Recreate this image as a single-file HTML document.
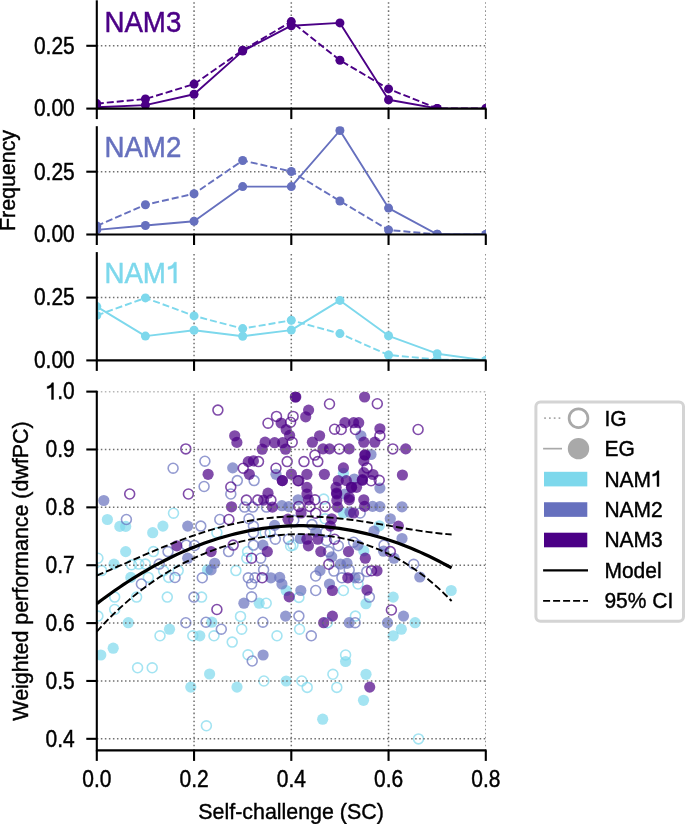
<!DOCTYPE html>
<html><head><meta charset="utf-8"><style>
html,body{margin:0;padding:0;background:#fff;}
svg{display:block;will-change:transform;}
text{font-family:"Liberation Sans", sans-serif;}
.t{font-size:21px;fill:#000;stroke:#000;stroke-width:0.4px;}
.lab{font-size:21.4px;fill:#000;stroke:#000;stroke-width:0.4px;}
.ttl{font-size:27.7px;stroke-width:0.45px;}
</style></head><body>
<svg width="685" height="824" viewBox="0 0 685 824">
<rect width="685" height="824" fill="#fff"/>
<clipPath id="cp0"><rect x="96.8" y="0.30" width="389.00" height="108.30"/></clipPath>
<g stroke="#707070" stroke-width="1.52" stroke-dasharray="1.52 2.51" fill="none" clip-path="url(#cp0)">
<line x1="96.8" y1="45.80" x2="485.8" y2="45.80"/>
<line x1="194.05" y1="108.60" x2="194.05" y2="0.30"/>
<line x1="291.30" y1="108.60" x2="291.30" y2="0.30"/>
<line x1="388.55" y1="108.60" x2="388.55" y2="0.30"/>
<line x1="485.80" y1="108.60" x2="485.80" y2="0.30"/>
</g>
<g clip-path="url(#cp0)">
<polyline points="96.80,103.60 145.43,99.00 194.05,84.10 242.68,50.30 291.30,21.60 339.93,60.30 388.55,88.90 437.18,108.40 485.80,108.60" fill="none" stroke="#4b0086" stroke-width="1.9" stroke-dasharray="7.0 3.0" stroke-linejoin="round"/>
<circle cx="96.80" cy="103.60" r="4.5" fill="#4b0086"/>
<circle cx="145.43" cy="99.00" r="4.5" fill="#4b0086"/>
<circle cx="194.05" cy="84.10" r="4.5" fill="#4b0086"/>
<circle cx="242.68" cy="50.30" r="4.5" fill="#4b0086"/>
<circle cx="291.30" cy="21.60" r="4.5" fill="#4b0086"/>
<circle cx="339.93" cy="60.30" r="4.5" fill="#4b0086"/>
<circle cx="388.55" cy="88.90" r="4.5" fill="#4b0086"/>
<circle cx="437.18" cy="108.40" r="4.5" fill="#4b0086"/>
<circle cx="485.80" cy="108.60" r="4.5" fill="#4b0086"/>
<polyline points="96.80,107.20 145.43,105.10 194.05,94.20 242.68,51.10 291.30,25.70 339.93,22.90 388.55,99.80 437.18,108.40 485.80,108.60" fill="none" stroke="#4b0086" stroke-width="1.9" stroke-linejoin="round"/>
<circle cx="96.80" cy="107.20" r="4.5" fill="#4b0086"/>
<circle cx="145.43" cy="105.10" r="4.5" fill="#4b0086"/>
<circle cx="194.05" cy="94.20" r="4.5" fill="#4b0086"/>
<circle cx="242.68" cy="51.10" r="4.5" fill="#4b0086"/>
<circle cx="291.30" cy="25.70" r="4.5" fill="#4b0086"/>
<circle cx="339.93" cy="22.90" r="4.5" fill="#4b0086"/>
<circle cx="388.55" cy="99.80" r="4.5" fill="#4b0086"/>
<circle cx="437.18" cy="108.40" r="4.5" fill="#4b0086"/>
<circle cx="485.80" cy="108.60" r="4.5" fill="#4b0086"/>
</g>
<line x1="96.8" y1="0.30" x2="96.8" y2="109.35" stroke="#000" stroke-width="2.1"/>
<line x1="96.05" y1="108.60" x2="486.55" y2="108.60" stroke="#000" stroke-width="2.1"/>
<line x1="86.3" y1="108.60" x2="96.8" y2="108.60" stroke="#000" stroke-width="2.1"/>
<line x1="86.3" y1="45.80" x2="96.8" y2="45.80" stroke="#000" stroke-width="2.1"/>
<line x1="96.80" y1="108.60" x2="96.80" y2="119.10" stroke="#000" stroke-width="2.1"/>
<line x1="194.05" y1="108.60" x2="194.05" y2="119.10" stroke="#000" stroke-width="2.1"/>
<line x1="291.30" y1="108.60" x2="291.30" y2="119.10" stroke="#000" stroke-width="2.1"/>
<line x1="388.55" y1="108.60" x2="388.55" y2="119.10" stroke="#000" stroke-width="2.1"/>
<line x1="485.80" y1="108.60" x2="485.80" y2="119.10" stroke="#000" stroke-width="2.1"/>
<text transform="translate(74.80,116.40) scale(1,1.12)" text-anchor="end" class="t">0.00</text>
<text transform="translate(74.80,53.60) scale(1,1.12)" text-anchor="end" class="t">0.25</text>
<text transform="translate(104.40,32.10) scale(1,1.06)" class="ttl" fill="#4b0086" stroke="#4b0086">NAM3</text>
<clipPath id="cp1"><rect x="96.8" y="126.20" width="389.00" height="108.30"/></clipPath>
<g stroke="#707070" stroke-width="1.52" stroke-dasharray="1.52 2.51" fill="none" clip-path="url(#cp1)">
<line x1="96.8" y1="171.70" x2="485.8" y2="171.70"/>
<line x1="194.05" y1="234.50" x2="194.05" y2="126.20"/>
<line x1="291.30" y1="234.50" x2="291.30" y2="126.20"/>
<line x1="388.55" y1="234.50" x2="388.55" y2="126.20"/>
<line x1="485.80" y1="234.50" x2="485.80" y2="126.20"/>
</g>
<g clip-path="url(#cp1)">
<polyline points="96.80,225.90 145.43,204.80 194.05,193.70 242.68,160.50 291.30,171.50 339.93,201.00 388.55,230.00 437.18,234.30 485.80,234.50" fill="none" stroke="#6670be" stroke-width="1.9" stroke-dasharray="7.0 3.0" stroke-linejoin="round"/>
<circle cx="96.80" cy="225.90" r="4.5" fill="#6670be"/>
<circle cx="145.43" cy="204.80" r="4.5" fill="#6670be"/>
<circle cx="194.05" cy="193.70" r="4.5" fill="#6670be"/>
<circle cx="242.68" cy="160.50" r="4.5" fill="#6670be"/>
<circle cx="291.30" cy="171.50" r="4.5" fill="#6670be"/>
<circle cx="339.93" cy="201.00" r="4.5" fill="#6670be"/>
<circle cx="388.55" cy="230.00" r="4.5" fill="#6670be"/>
<circle cx="437.18" cy="234.30" r="4.5" fill="#6670be"/>
<circle cx="485.80" cy="234.50" r="4.5" fill="#6670be"/>
<polyline points="96.80,229.90 145.43,225.50 194.05,221.30 242.68,186.60 291.30,186.60 339.93,130.50 388.55,208.10 437.18,234.30 485.80,234.50" fill="none" stroke="#6670be" stroke-width="1.9" stroke-linejoin="round"/>
<circle cx="96.80" cy="229.90" r="4.5" fill="#6670be"/>
<circle cx="145.43" cy="225.50" r="4.5" fill="#6670be"/>
<circle cx="194.05" cy="221.30" r="4.5" fill="#6670be"/>
<circle cx="242.68" cy="186.60" r="4.5" fill="#6670be"/>
<circle cx="291.30" cy="186.60" r="4.5" fill="#6670be"/>
<circle cx="339.93" cy="130.50" r="4.5" fill="#6670be"/>
<circle cx="388.55" cy="208.10" r="4.5" fill="#6670be"/>
<circle cx="437.18" cy="234.30" r="4.5" fill="#6670be"/>
<circle cx="485.80" cy="234.50" r="4.5" fill="#6670be"/>
</g>
<line x1="96.8" y1="126.20" x2="96.8" y2="235.25" stroke="#000" stroke-width="2.1"/>
<line x1="96.05" y1="234.50" x2="486.55" y2="234.50" stroke="#000" stroke-width="2.1"/>
<line x1="86.3" y1="234.50" x2="96.8" y2="234.50" stroke="#000" stroke-width="2.1"/>
<line x1="86.3" y1="171.70" x2="96.8" y2="171.70" stroke="#000" stroke-width="2.1"/>
<line x1="96.80" y1="234.50" x2="96.80" y2="245.00" stroke="#000" stroke-width="2.1"/>
<line x1="194.05" y1="234.50" x2="194.05" y2="245.00" stroke="#000" stroke-width="2.1"/>
<line x1="291.30" y1="234.50" x2="291.30" y2="245.00" stroke="#000" stroke-width="2.1"/>
<line x1="388.55" y1="234.50" x2="388.55" y2="245.00" stroke="#000" stroke-width="2.1"/>
<line x1="485.80" y1="234.50" x2="485.80" y2="245.00" stroke="#000" stroke-width="2.1"/>
<text transform="translate(74.80,242.30) scale(1,1.12)" text-anchor="end" class="t">0.00</text>
<text transform="translate(74.80,179.50) scale(1,1.12)" text-anchor="end" class="t">0.25</text>
<text transform="translate(104.40,157.10) scale(1,1.06)" class="ttl" fill="#6670be" stroke="#6670be">NAM2</text>
<clipPath id="cp2"><rect x="96.8" y="252.10" width="389.00" height="108.30"/></clipPath>
<g stroke="#707070" stroke-width="1.52" stroke-dasharray="1.52 2.51" fill="none" clip-path="url(#cp2)">
<line x1="96.8" y1="297.60" x2="485.8" y2="297.60"/>
<line x1="194.05" y1="360.40" x2="194.05" y2="252.10"/>
<line x1="291.30" y1="360.40" x2="291.30" y2="252.10"/>
<line x1="388.55" y1="360.40" x2="388.55" y2="252.10"/>
<line x1="485.80" y1="360.40" x2="485.80" y2="252.10"/>
</g>
<g clip-path="url(#cp2)">
<polyline points="96.80,315.40 145.43,297.90 194.05,315.90 242.68,328.60 291.30,320.30 339.93,333.60 388.55,355.00 437.18,359.50 485.80,360.40" fill="none" stroke="#7dd8ec" stroke-width="1.9" stroke-dasharray="7.0 3.0" stroke-linejoin="round"/>
<circle cx="96.80" cy="315.40" r="4.5" fill="#7dd8ec"/>
<circle cx="145.43" cy="297.90" r="4.5" fill="#7dd8ec"/>
<circle cx="194.05" cy="315.90" r="4.5" fill="#7dd8ec"/>
<circle cx="242.68" cy="328.60" r="4.5" fill="#7dd8ec"/>
<circle cx="291.30" cy="320.30" r="4.5" fill="#7dd8ec"/>
<circle cx="339.93" cy="333.60" r="4.5" fill="#7dd8ec"/>
<circle cx="388.55" cy="355.00" r="4.5" fill="#7dd8ec"/>
<circle cx="437.18" cy="359.50" r="4.5" fill="#7dd8ec"/>
<circle cx="485.80" cy="360.40" r="4.5" fill="#7dd8ec"/>
<polyline points="96.80,306.60 145.43,336.10 194.05,330.30 242.68,336.20 291.30,330.10 339.93,300.40 388.55,335.80 437.18,353.70 485.80,360.40" fill="none" stroke="#7dd8ec" stroke-width="1.9" stroke-linejoin="round"/>
<circle cx="96.80" cy="306.60" r="4.5" fill="#7dd8ec"/>
<circle cx="145.43" cy="336.10" r="4.5" fill="#7dd8ec"/>
<circle cx="194.05" cy="330.30" r="4.5" fill="#7dd8ec"/>
<circle cx="242.68" cy="336.20" r="4.5" fill="#7dd8ec"/>
<circle cx="291.30" cy="330.10" r="4.5" fill="#7dd8ec"/>
<circle cx="339.93" cy="300.40" r="4.5" fill="#7dd8ec"/>
<circle cx="388.55" cy="335.80" r="4.5" fill="#7dd8ec"/>
<circle cx="437.18" cy="353.70" r="4.5" fill="#7dd8ec"/>
<circle cx="485.80" cy="360.40" r="4.5" fill="#7dd8ec"/>
</g>
<line x1="96.8" y1="252.10" x2="96.8" y2="361.15" stroke="#000" stroke-width="2.1"/>
<line x1="96.05" y1="360.40" x2="486.55" y2="360.40" stroke="#000" stroke-width="2.1"/>
<line x1="86.3" y1="360.40" x2="96.8" y2="360.40" stroke="#000" stroke-width="2.1"/>
<line x1="86.3" y1="297.60" x2="96.8" y2="297.60" stroke="#000" stroke-width="2.1"/>
<line x1="96.80" y1="360.40" x2="96.80" y2="370.90" stroke="#000" stroke-width="2.1"/>
<line x1="194.05" y1="360.40" x2="194.05" y2="370.90" stroke="#000" stroke-width="2.1"/>
<line x1="291.30" y1="360.40" x2="291.30" y2="370.90" stroke="#000" stroke-width="2.1"/>
<line x1="388.55" y1="360.40" x2="388.55" y2="370.90" stroke="#000" stroke-width="2.1"/>
<line x1="485.80" y1="360.40" x2="485.80" y2="370.90" stroke="#000" stroke-width="2.1"/>
<text transform="translate(74.80,368.20) scale(1,1.12)" text-anchor="end" class="t">0.00</text>
<text transform="translate(74.80,305.40) scale(1,1.12)" text-anchor="end" class="t">0.25</text>
<text transform="translate(104.40,283.00) scale(1,1.06)" class="ttl" fill="#7dd8ec" stroke="#7dd8ec">NAM</text>
<path transform="translate(165.96,283.00) scale(0.02770,-0.02936)" d="M376 0L282 0L282 530C222 490 150 470 76 462L76 550C176 565 258 620 300 709L376 709Z" fill="#7dd8ec" stroke="#7dd8ec" stroke-width="16.2"/>
<text transform="translate(15.40,180.50) rotate(-90) scale(1,1.05)" text-anchor="middle" class="lab">Frequency</text>
<clipPath id="cpb"><rect x="96.8" y="391.61" width="389.00" height="358.79"/></clipPath>
<g clip-path="url(#cpb)">
<circle cx="343.4" cy="473.3" r="5.6" fill="#7dd8ec" fill-opacity="0.7"/>
<circle cx="107.4" cy="519.5" r="5.6" fill="#7dd8ec" fill-opacity="0.7"/>
<circle cx="119.8" cy="526.4" r="5.6" fill="#7dd8ec" fill-opacity="0.7"/>
<circle cx="125.7" cy="526.4" r="5.6" fill="#7dd8ec" fill-opacity="0.7"/>
<circle cx="162.9" cy="526.1" r="5.6" fill="#7dd8ec" fill-opacity="0.7"/>
<circle cx="152.7" cy="532.7" r="5.6" fill="#7dd8ec" fill-opacity="0.7"/>
<circle cx="125.7" cy="551.6" r="5.6" fill="#7dd8ec" fill-opacity="0.7"/>
<circle cx="114.0" cy="564.1" r="5.6" fill="#7dd8ec" fill-opacity="0.7"/>
<circle cx="207.4" cy="569.9" r="5.6" fill="#7dd8ec" fill-opacity="0.7"/>
<circle cx="343.4" cy="513.0" r="5.6" fill="#7dd8ec" fill-opacity="0.7"/>
<circle cx="379.3" cy="525.8" r="5.6" fill="#7dd8ec" fill-opacity="0.7"/>
<circle cx="363.8" cy="550.9" r="5.6" fill="#7dd8ec" fill-opacity="0.7"/>
<circle cx="130.8" cy="577.4" r="5.6" fill="#7dd8ec" fill-opacity="0.7"/>
<circle cx="128.3" cy="622.7" r="5.6" fill="#7dd8ec" fill-opacity="0.7"/>
<circle cx="169.5" cy="629.2" r="5.6" fill="#7dd8ec" fill-opacity="0.7"/>
<circle cx="113.2" cy="648.2" r="5.6" fill="#7dd8ec" fill-opacity="0.7"/>
<circle cx="100.8" cy="655.0" r="5.6" fill="#7dd8ec" fill-opacity="0.7"/>
<circle cx="286.2" cy="590.5" r="5.6" fill="#7dd8ec" fill-opacity="0.7"/>
<circle cx="259.2" cy="603.2" r="5.6" fill="#7dd8ec" fill-opacity="0.7"/>
<circle cx="211.8" cy="622.2" r="5.6" fill="#7dd8ec" fill-opacity="0.7"/>
<circle cx="199.8" cy="635.8" r="5.6" fill="#7dd8ec" fill-opacity="0.7"/>
<circle cx="366.0" cy="603.7" r="5.6" fill="#7dd8ec" fill-opacity="0.7"/>
<circle cx="345.6" cy="661.5" r="5.6" fill="#7dd8ec" fill-opacity="0.7"/>
<circle cx="451.2" cy="590.5" r="5.6" fill="#7dd8ec" fill-opacity="0.7"/>
<circle cx="393.2" cy="597.1" r="5.6" fill="#7dd8ec" fill-opacity="0.7"/>
<circle cx="415.1" cy="622.7" r="5.6" fill="#7dd8ec" fill-opacity="0.7"/>
<circle cx="401.3" cy="629.2" r="5.6" fill="#7dd8ec" fill-opacity="0.7"/>
<circle cx="393.2" cy="635.8" r="5.6" fill="#7dd8ec" fill-opacity="0.7"/>
<circle cx="190.8" cy="687.1" r="5.6" fill="#7dd8ec" fill-opacity="0.7"/>
<circle cx="209.6" cy="674.0" r="5.6" fill="#7dd8ec" fill-opacity="0.7"/>
<circle cx="237.0" cy="687.1" r="5.6" fill="#7dd8ec" fill-opacity="0.7"/>
<circle cx="286.2" cy="681.0" r="5.6" fill="#7dd8ec" fill-opacity="0.7"/>
<circle cx="366.0" cy="674.3" r="5.6" fill="#7dd8ec" fill-opacity="0.7"/>
<circle cx="363.5" cy="700.3" r="5.6" fill="#7dd8ec" fill-opacity="0.7"/>
<circle cx="322.7" cy="719.2" r="5.6" fill="#7dd8ec" fill-opacity="0.7"/>
<circle cx="173.5" cy="513.2" r="4.95" fill="none" stroke="#7dd8ec" stroke-opacity="0.7" stroke-width="1.6"/>
<circle cx="153.4" cy="551.6" r="4.95" fill="none" stroke="#7dd8ec" stroke-opacity="0.7" stroke-width="1.6"/>
<circle cx="97.9" cy="558.2" r="4.95" fill="none" stroke="#7dd8ec" stroke-opacity="0.7" stroke-width="1.6"/>
<circle cx="131.5" cy="564.8" r="4.95" fill="none" stroke="#7dd8ec" stroke-opacity="0.7" stroke-width="1.6"/>
<circle cx="138.8" cy="564.1" r="4.95" fill="none" stroke="#7dd8ec" stroke-opacity="0.7" stroke-width="1.6"/>
<circle cx="145.4" cy="564.1" r="4.95" fill="none" stroke="#7dd8ec" stroke-opacity="0.7" stroke-width="1.6"/>
<circle cx="101.6" cy="570.6" r="4.95" fill="none" stroke="#7dd8ec" stroke-opacity="0.7" stroke-width="1.6"/>
<circle cx="178.2" cy="570.6" r="4.95" fill="none" stroke="#7dd8ec" stroke-opacity="0.7" stroke-width="1.6"/>
<circle cx="216.9" cy="532.7" r="4.95" fill="none" stroke="#7dd8ec" stroke-opacity="0.7" stroke-width="1.6"/>
<circle cx="265.1" cy="532.7" r="4.95" fill="none" stroke="#7dd8ec" stroke-opacity="0.7" stroke-width="1.6"/>
<circle cx="247.6" cy="551.6" r="4.95" fill="none" stroke="#7dd8ec" stroke-opacity="0.7" stroke-width="1.6"/>
<circle cx="246.8" cy="558.2" r="4.95" fill="none" stroke="#7dd8ec" stroke-opacity="0.7" stroke-width="1.6"/>
<circle cx="290.6" cy="546.0" r="4.95" fill="none" stroke="#7dd8ec" stroke-opacity="0.7" stroke-width="1.6"/>
<circle cx="235.9" cy="570.6" r="4.95" fill="none" stroke="#7dd8ec" stroke-opacity="0.7" stroke-width="1.6"/>
<circle cx="323.7" cy="499.1" r="4.95" fill="none" stroke="#7dd8ec" stroke-opacity="0.7" stroke-width="1.6"/>
<circle cx="325.1" cy="518.8" r="4.95" fill="none" stroke="#7dd8ec" stroke-opacity="0.7" stroke-width="1.6"/>
<circle cx="293.0" cy="545.1" r="4.95" fill="none" stroke="#7dd8ec" stroke-opacity="0.7" stroke-width="1.6"/>
<circle cx="148.3" cy="577.4" r="4.95" fill="none" stroke="#7dd8ec" stroke-opacity="0.7" stroke-width="1.6"/>
<circle cx="163.6" cy="570.8" r="4.95" fill="none" stroke="#7dd8ec" stroke-opacity="0.7" stroke-width="1.6"/>
<circle cx="168.7" cy="577.4" r="4.95" fill="none" stroke="#7dd8ec" stroke-opacity="0.7" stroke-width="1.6"/>
<circle cx="114.7" cy="597.1" r="4.95" fill="none" stroke="#7dd8ec" stroke-opacity="0.7" stroke-width="1.6"/>
<circle cx="136.6" cy="597.1" r="4.95" fill="none" stroke="#7dd8ec" stroke-opacity="0.7" stroke-width="1.6"/>
<circle cx="167.3" cy="597.1" r="4.95" fill="none" stroke="#7dd8ec" stroke-opacity="0.7" stroke-width="1.6"/>
<circle cx="114.7" cy="609.5" r="4.95" fill="none" stroke="#7dd8ec" stroke-opacity="0.7" stroke-width="1.6"/>
<circle cx="97.9" cy="616.1" r="4.95" fill="none" stroke="#7dd8ec" stroke-opacity="0.7" stroke-width="1.6"/>
<circle cx="160.0" cy="635.8" r="4.95" fill="none" stroke="#7dd8ec" stroke-opacity="0.7" stroke-width="1.6"/>
<circle cx="192.8" cy="635.8" r="4.95" fill="none" stroke="#7dd8ec" stroke-opacity="0.7" stroke-width="1.6"/>
<circle cx="137.6" cy="667.8" r="4.95" fill="none" stroke="#7dd8ec" stroke-opacity="0.7" stroke-width="1.6"/>
<circle cx="152.2" cy="667.8" r="4.95" fill="none" stroke="#7dd8ec" stroke-opacity="0.7" stroke-width="1.6"/>
<circle cx="201.6" cy="597.1" r="4.95" fill="none" stroke="#7dd8ec" stroke-opacity="0.7" stroke-width="1.6"/>
<circle cx="266.2" cy="603.2" r="4.95" fill="none" stroke="#7dd8ec" stroke-opacity="0.7" stroke-width="1.6"/>
<circle cx="240.5" cy="616.4" r="4.95" fill="none" stroke="#7dd8ec" stroke-opacity="0.7" stroke-width="1.6"/>
<circle cx="241.7" cy="629.2" r="4.95" fill="none" stroke="#7dd8ec" stroke-opacity="0.7" stroke-width="1.6"/>
<circle cx="214.0" cy="635.8" r="4.95" fill="none" stroke="#7dd8ec" stroke-opacity="0.7" stroke-width="1.6"/>
<circle cx="277.0" cy="635.8" r="4.95" fill="none" stroke="#7dd8ec" stroke-opacity="0.7" stroke-width="1.6"/>
<circle cx="232.2" cy="642.1" r="4.95" fill="none" stroke="#7dd8ec" stroke-opacity="0.7" stroke-width="1.6"/>
<circle cx="248.0" cy="654.8" r="4.95" fill="none" stroke="#7dd8ec" stroke-opacity="0.7" stroke-width="1.6"/>
<circle cx="358.0" cy="584.0" r="4.95" fill="none" stroke="#7dd8ec" stroke-opacity="0.7" stroke-width="1.6"/>
<circle cx="343.4" cy="590.5" r="4.95" fill="none" stroke="#7dd8ec" stroke-opacity="0.7" stroke-width="1.6"/>
<circle cx="298.9" cy="597.4" r="4.95" fill="none" stroke="#7dd8ec" stroke-opacity="0.7" stroke-width="1.6"/>
<circle cx="299.6" cy="629.2" r="4.95" fill="none" stroke="#7dd8ec" stroke-opacity="0.7" stroke-width="1.6"/>
<circle cx="327.3" cy="622.7" r="4.95" fill="none" stroke="#7dd8ec" stroke-opacity="0.7" stroke-width="1.6"/>
<circle cx="355.4" cy="616.1" r="4.95" fill="none" stroke="#7dd8ec" stroke-opacity="0.7" stroke-width="1.6"/>
<circle cx="345.6" cy="655.0" r="4.95" fill="none" stroke="#7dd8ec" stroke-opacity="0.7" stroke-width="1.6"/>
<circle cx="263.9" cy="681.0" r="4.95" fill="none" stroke="#7dd8ec" stroke-opacity="0.7" stroke-width="1.6"/>
<circle cx="206.4" cy="725.8" r="4.95" fill="none" stroke="#7dd8ec" stroke-opacity="0.7" stroke-width="1.6"/>
<circle cx="301.8" cy="681.0" r="4.95" fill="none" stroke="#7dd8ec" stroke-opacity="0.7" stroke-width="1.6"/>
<circle cx="307.2" cy="687.4" r="4.95" fill="none" stroke="#7dd8ec" stroke-opacity="0.7" stroke-width="1.6"/>
<circle cx="332.9" cy="674.3" r="4.95" fill="none" stroke="#7dd8ec" stroke-opacity="0.7" stroke-width="1.6"/>
<circle cx="336.8" cy="687.4" r="4.95" fill="none" stroke="#7dd8ec" stroke-opacity="0.7" stroke-width="1.6"/>
<circle cx="418.5" cy="738.9" r="4.95" fill="none" stroke="#7dd8ec" stroke-opacity="0.7" stroke-width="1.6"/>
<circle cx="232.7" cy="467.9" r="5.6" fill="#6670be" fill-opacity="0.7"/>
<circle cx="276.0" cy="474.3" r="5.6" fill="#6670be" fill-opacity="0.7"/>
<circle cx="360.9" cy="435.8" r="5.6" fill="#6670be" fill-opacity="0.7"/>
<circle cx="371.0" cy="454.5" r="5.6" fill="#6670be" fill-opacity="0.7"/>
<circle cx="354.3" cy="479.0" r="5.6" fill="#6670be" fill-opacity="0.7"/>
<circle cx="103.8" cy="500.5" r="5.6" fill="#6670be" fill-opacity="0.7"/>
<circle cx="187.7" cy="526.1" r="5.6" fill="#6670be" fill-opacity="0.7"/>
<circle cx="187.7" cy="558.2" r="5.6" fill="#6670be" fill-opacity="0.7"/>
<circle cx="281.9" cy="505.7" r="5.6" fill="#6670be" fill-opacity="0.7"/>
<circle cx="288.8" cy="506.6" r="5.6" fill="#6670be" fill-opacity="0.7"/>
<circle cx="274.6" cy="525.4" r="5.6" fill="#6670be" fill-opacity="0.7"/>
<circle cx="262.9" cy="545.1" r="5.6" fill="#6670be" fill-opacity="0.7"/>
<circle cx="214.7" cy="563.3" r="5.6" fill="#6670be" fill-opacity="0.7"/>
<circle cx="211.1" cy="569.9" r="5.6" fill="#6670be" fill-opacity="0.7"/>
<circle cx="298.1" cy="499.8" r="5.6" fill="#6670be" fill-opacity="0.7"/>
<circle cx="379.9" cy="488.1" r="5.6" fill="#6670be" fill-opacity="0.7"/>
<circle cx="344.9" cy="494.0" r="5.6" fill="#6670be" fill-opacity="0.7"/>
<circle cx="372.6" cy="506.4" r="5.6" fill="#6670be" fill-opacity="0.7"/>
<circle cx="379.9" cy="506.6" r="5.6" fill="#6670be" fill-opacity="0.7"/>
<circle cx="350.0" cy="512.2" r="5.6" fill="#6670be" fill-opacity="0.7"/>
<circle cx="374.0" cy="531.2" r="5.6" fill="#6670be" fill-opacity="0.7"/>
<circle cx="315.7" cy="531.9" r="5.6" fill="#6670be" fill-opacity="0.7"/>
<circle cx="300.3" cy="538.5" r="5.6" fill="#6670be" fill-opacity="0.7"/>
<circle cx="358.0" cy="545.1" r="5.6" fill="#6670be" fill-opacity="0.7"/>
<circle cx="383.6" cy="551.2" r="5.6" fill="#6670be" fill-opacity="0.7"/>
<circle cx="331.7" cy="556.8" r="5.6" fill="#6670be" fill-opacity="0.7"/>
<circle cx="340.5" cy="564.1" r="5.6" fill="#6670be" fill-opacity="0.7"/>
<circle cx="347.0" cy="563.3" r="5.6" fill="#6670be" fill-opacity="0.7"/>
<circle cx="320.0" cy="570.6" r="5.6" fill="#6670be" fill-opacity="0.7"/>
<circle cx="402.0" cy="506.8" r="5.6" fill="#6670be" fill-opacity="0.7"/>
<circle cx="390.3" cy="518.8" r="5.6" fill="#6670be" fill-opacity="0.7"/>
<circle cx="402.0" cy="538.5" r="5.6" fill="#6670be" fill-opacity="0.7"/>
<circle cx="394.0" cy="558.2" r="5.6" fill="#6670be" fill-opacity="0.7"/>
<circle cx="419.8" cy="577.0" r="5.6" fill="#6670be" fill-opacity="0.7"/>
<circle cx="270.9" cy="577.8" r="5.6" fill="#6670be" fill-opacity="0.7"/>
<circle cx="279.7" cy="577.4" r="5.6" fill="#6670be" fill-opacity="0.7"/>
<circle cx="281.9" cy="584.0" r="5.6" fill="#6670be" fill-opacity="0.7"/>
<circle cx="243.9" cy="603.2" r="5.6" fill="#6670be" fill-opacity="0.7"/>
<circle cx="285.6" cy="616.1" r="5.6" fill="#6670be" fill-opacity="0.7"/>
<circle cx="263.1" cy="655.0" r="5.6" fill="#6670be" fill-opacity="0.7"/>
<circle cx="329.5" cy="584.0" r="5.6" fill="#6670be" fill-opacity="0.7"/>
<circle cx="355.1" cy="577.8" r="5.6" fill="#6670be" fill-opacity="0.7"/>
<circle cx="300.8" cy="590.5" r="5.6" fill="#6670be" fill-opacity="0.7"/>
<circle cx="349.2" cy="622.7" r="5.6" fill="#6670be" fill-opacity="0.7"/>
<circle cx="403.5" cy="616.1" r="5.6" fill="#6670be" fill-opacity="0.7"/>
<circle cx="387.5" cy="622.7" r="5.6" fill="#6670be" fill-opacity="0.7"/>
<circle cx="173.1" cy="468.2" r="4.95" fill="none" stroke="#6670be" stroke-opacity="0.7" stroke-width="1.6"/>
<circle cx="204.9" cy="461.2" r="4.95" fill="none" stroke="#6670be" stroke-opacity="0.7" stroke-width="1.6"/>
<circle cx="237.3" cy="480.6" r="4.95" fill="none" stroke="#6670be" stroke-opacity="0.7" stroke-width="1.6"/>
<circle cx="254.1" cy="480.6" r="4.95" fill="none" stroke="#6670be" stroke-opacity="0.7" stroke-width="1.6"/>
<circle cx="204.1" cy="486.5" r="4.95" fill="none" stroke="#6670be" stroke-opacity="0.7" stroke-width="1.6"/>
<circle cx="126.4" cy="519.5" r="4.95" fill="none" stroke="#6670be" stroke-opacity="0.7" stroke-width="1.6"/>
<circle cx="168.0" cy="551.6" r="4.95" fill="none" stroke="#6670be" stroke-opacity="0.7" stroke-width="1.6"/>
<circle cx="186.2" cy="545.1" r="4.95" fill="none" stroke="#6670be" stroke-opacity="0.7" stroke-width="1.6"/>
<circle cx="194.5" cy="545.5" r="4.95" fill="none" stroke="#6670be" stroke-opacity="0.7" stroke-width="1.6"/>
<circle cx="159.2" cy="564.1" r="4.95" fill="none" stroke="#6670be" stroke-opacity="0.7" stroke-width="1.6"/>
<circle cx="175.0" cy="577.5" r="4.95" fill="none" stroke="#6670be" stroke-opacity="0.7" stroke-width="1.6"/>
<circle cx="230.8" cy="494.0" r="4.95" fill="none" stroke="#6670be" stroke-opacity="0.7" stroke-width="1.6"/>
<circle cx="244.6" cy="507.1" r="4.95" fill="none" stroke="#6670be" stroke-opacity="0.7" stroke-width="1.6"/>
<circle cx="252.7" cy="507.1" r="4.95" fill="none" stroke="#6670be" stroke-opacity="0.7" stroke-width="1.6"/>
<circle cx="266.5" cy="507.1" r="4.95" fill="none" stroke="#6670be" stroke-opacity="0.7" stroke-width="1.6"/>
<circle cx="219.8" cy="519.5" r="4.95" fill="none" stroke="#6670be" stroke-opacity="0.7" stroke-width="1.6"/>
<circle cx="249.0" cy="518.8" r="4.95" fill="none" stroke="#6670be" stroke-opacity="0.7" stroke-width="1.6"/>
<circle cx="200.8" cy="526.1" r="4.95" fill="none" stroke="#6670be" stroke-opacity="0.7" stroke-width="1.6"/>
<circle cx="253.4" cy="526.1" r="4.95" fill="none" stroke="#6670be" stroke-opacity="0.7" stroke-width="1.6"/>
<circle cx="253.4" cy="532.7" r="4.95" fill="none" stroke="#6670be" stroke-opacity="0.7" stroke-width="1.6"/>
<circle cx="270.2" cy="532.7" r="4.95" fill="none" stroke="#6670be" stroke-opacity="0.7" stroke-width="1.6"/>
<circle cx="275.3" cy="539.2" r="4.95" fill="none" stroke="#6670be" stroke-opacity="0.7" stroke-width="1.6"/>
<circle cx="288.5" cy="539.2" r="4.95" fill="none" stroke="#6670be" stroke-opacity="0.7" stroke-width="1.6"/>
<circle cx="253.4" cy="545.1" r="4.95" fill="none" stroke="#6670be" stroke-opacity="0.7" stroke-width="1.6"/>
<circle cx="228.6" cy="551.6" r="4.95" fill="none" stroke="#6670be" stroke-opacity="0.7" stroke-width="1.6"/>
<circle cx="260.7" cy="558.2" r="4.95" fill="none" stroke="#6670be" stroke-opacity="0.7" stroke-width="1.6"/>
<circle cx="263.6" cy="569.9" r="4.95" fill="none" stroke="#6670be" stroke-opacity="0.7" stroke-width="1.6"/>
<circle cx="360.2" cy="513.0" r="4.95" fill="none" stroke="#6670be" stroke-opacity="0.7" stroke-width="1.6"/>
<circle cx="293.8" cy="520.3" r="4.95" fill="none" stroke="#6670be" stroke-opacity="0.7" stroke-width="1.6"/>
<circle cx="312.0" cy="524.6" r="4.95" fill="none" stroke="#6670be" stroke-opacity="0.7" stroke-width="1.6"/>
<circle cx="325.9" cy="531.9" r="4.95" fill="none" stroke="#6670be" stroke-opacity="0.7" stroke-width="1.6"/>
<circle cx="326.6" cy="540.7" r="4.95" fill="none" stroke="#6670be" stroke-opacity="0.7" stroke-width="1.6"/>
<circle cx="338.3" cy="545.8" r="4.95" fill="none" stroke="#6670be" stroke-opacity="0.7" stroke-width="1.6"/>
<circle cx="353.6" cy="542.2" r="4.95" fill="none" stroke="#6670be" stroke-opacity="0.7" stroke-width="1.6"/>
<circle cx="328.8" cy="551.6" r="4.95" fill="none" stroke="#6670be" stroke-opacity="0.7" stroke-width="1.6"/>
<circle cx="384.0" cy="545.1" r="4.95" fill="none" stroke="#6670be" stroke-opacity="0.7" stroke-width="1.6"/>
<circle cx="349.2" cy="569.9" r="4.95" fill="none" stroke="#6670be" stroke-opacity="0.7" stroke-width="1.6"/>
<circle cx="315.7" cy="576.0" r="4.95" fill="none" stroke="#6670be" stroke-opacity="0.7" stroke-width="1.6"/>
<circle cx="333.9" cy="571.1" r="4.95" fill="none" stroke="#6670be" stroke-opacity="0.7" stroke-width="1.6"/>
<circle cx="413.7" cy="564.3" r="4.95" fill="none" stroke="#6670be" stroke-opacity="0.7" stroke-width="1.6"/>
<circle cx="141.4" cy="584.0" r="4.95" fill="none" stroke="#6670be" stroke-opacity="0.7" stroke-width="1.6"/>
<circle cx="193.9" cy="597.1" r="4.95" fill="none" stroke="#6670be" stroke-opacity="0.7" stroke-width="1.6"/>
<circle cx="185.8" cy="622.7" r="4.95" fill="none" stroke="#6670be" stroke-opacity="0.7" stroke-width="1.6"/>
<circle cx="202.3" cy="577.8" r="4.95" fill="none" stroke="#6670be" stroke-opacity="0.7" stroke-width="1.6"/>
<circle cx="248.3" cy="577.8" r="4.95" fill="none" stroke="#6670be" stroke-opacity="0.7" stroke-width="1.6"/>
<circle cx="254.9" cy="577.8" r="4.95" fill="none" stroke="#6670be" stroke-opacity="0.7" stroke-width="1.6"/>
<circle cx="251.6" cy="584.0" r="4.95" fill="none" stroke="#6670be" stroke-opacity="0.7" stroke-width="1.6"/>
<circle cx="251.6" cy="596.8" r="4.95" fill="none" stroke="#6670be" stroke-opacity="0.7" stroke-width="1.6"/>
<circle cx="206.0" cy="622.2" r="4.95" fill="none" stroke="#6670be" stroke-opacity="0.7" stroke-width="1.6"/>
<circle cx="262.9" cy="622.2" r="4.95" fill="none" stroke="#6670be" stroke-opacity="0.7" stroke-width="1.6"/>
<circle cx="221.3" cy="629.2" r="4.95" fill="none" stroke="#6670be" stroke-opacity="0.7" stroke-width="1.6"/>
<circle cx="252.2" cy="661.0" r="4.95" fill="none" stroke="#6670be" stroke-opacity="0.7" stroke-width="1.6"/>
<circle cx="315.7" cy="590.5" r="4.95" fill="none" stroke="#6670be" stroke-opacity="0.7" stroke-width="1.6"/>
<circle cx="341.9" cy="577.8" r="4.95" fill="none" stroke="#6670be" stroke-opacity="0.7" stroke-width="1.6"/>
<circle cx="358.7" cy="577.8" r="4.95" fill="none" stroke="#6670be" stroke-opacity="0.7" stroke-width="1.6"/>
<circle cx="366.8" cy="571.6" r="4.95" fill="none" stroke="#6670be" stroke-opacity="0.7" stroke-width="1.6"/>
<circle cx="369.4" cy="597.1" r="4.95" fill="none" stroke="#6670be" stroke-opacity="0.7" stroke-width="1.6"/>
<circle cx="298.9" cy="616.1" r="4.95" fill="none" stroke="#6670be" stroke-opacity="0.7" stroke-width="1.6"/>
<circle cx="311.3" cy="635.8" r="4.95" fill="none" stroke="#6670be" stroke-opacity="0.7" stroke-width="1.6"/>
<circle cx="355.1" cy="622.7" r="4.95" fill="none" stroke="#6670be" stroke-opacity="0.7" stroke-width="1.6"/>
<circle cx="234.7" cy="435.8" r="5.6" fill="#4b0086" fill-opacity="0.7"/>
<circle cx="236.9" cy="442.4" r="5.6" fill="#4b0086" fill-opacity="0.7"/>
<circle cx="281.1" cy="423.0" r="5.6" fill="#4b0086" fill-opacity="0.7"/>
<circle cx="286.2" cy="429.5" r="5.6" fill="#4b0086" fill-opacity="0.7"/>
<circle cx="295.3" cy="397.0" r="5.6" fill="#4b0086" fill-opacity="0.7"/>
<circle cx="295.8" cy="397.0" r="5.6" fill="#4b0086" fill-opacity="0.7"/>
<circle cx="265.1" cy="442.2" r="5.6" fill="#4b0086" fill-opacity="0.7"/>
<circle cx="274.6" cy="442.7" r="5.6" fill="#4b0086" fill-opacity="0.7"/>
<circle cx="282.6" cy="442.7" r="5.6" fill="#4b0086" fill-opacity="0.7"/>
<circle cx="262.2" cy="449.2" r="5.6" fill="#4b0086" fill-opacity="0.7"/>
<circle cx="285.5" cy="449.2" r="5.6" fill="#4b0086" fill-opacity="0.7"/>
<circle cx="289.6" cy="435.4" r="5.6" fill="#4b0086" fill-opacity="0.7"/>
<circle cx="208.1" cy="474.3" r="5.6" fill="#4b0086" fill-opacity="0.7"/>
<circle cx="248.3" cy="461.6" r="5.6" fill="#4b0086" fill-opacity="0.7"/>
<circle cx="253.4" cy="460.9" r="5.6" fill="#4b0086" fill-opacity="0.7"/>
<circle cx="249.3" cy="474.3" r="5.6" fill="#4b0086" fill-opacity="0.7"/>
<circle cx="282.3" cy="480.6" r="5.6" fill="#4b0086" fill-opacity="0.7"/>
<circle cx="291.4" cy="474.1" r="5.6" fill="#4b0086" fill-opacity="0.7"/>
<circle cx="364.6" cy="397.0" r="5.6" fill="#4b0086" fill-opacity="0.7"/>
<circle cx="308.6" cy="410.1" r="5.6" fill="#4b0086" fill-opacity="0.7"/>
<circle cx="305.7" cy="416.8" r="5.6" fill="#4b0086" fill-opacity="0.7"/>
<circle cx="344.9" cy="422.7" r="5.6" fill="#4b0086" fill-opacity="0.7"/>
<circle cx="353.6" cy="422.7" r="5.6" fill="#4b0086" fill-opacity="0.7"/>
<circle cx="358.7" cy="422.7" r="5.6" fill="#4b0086" fill-opacity="0.7"/>
<circle cx="363.8" cy="442.2" r="5.6" fill="#4b0086" fill-opacity="0.7"/>
<circle cx="374.8" cy="442.2" r="5.6" fill="#4b0086" fill-opacity="0.7"/>
<circle cx="379.9" cy="428.8" r="5.6" fill="#4b0086" fill-opacity="0.7"/>
<circle cx="319.6" cy="435.8" r="5.6" fill="#4b0086" fill-opacity="0.7"/>
<circle cx="312.4" cy="442.2" r="5.6" fill="#4b0086" fill-opacity="0.7"/>
<circle cx="323.0" cy="448.9" r="5.6" fill="#4b0086" fill-opacity="0.7"/>
<circle cx="329.5" cy="448.9" r="5.6" fill="#4b0086" fill-opacity="0.7"/>
<circle cx="349.2" cy="448.9" r="5.6" fill="#4b0086" fill-opacity="0.7"/>
<circle cx="365.0" cy="455.0" r="5.6" fill="#4b0086" fill-opacity="0.7"/>
<circle cx="365.0" cy="454.8" r="5.6" fill="#4b0086" fill-opacity="0.7"/>
<circle cx="363.8" cy="460.9" r="5.6" fill="#4b0086" fill-opacity="0.7"/>
<circle cx="343.4" cy="467.9" r="5.6" fill="#4b0086" fill-opacity="0.7"/>
<circle cx="306.9" cy="474.3" r="5.6" fill="#4b0086" fill-opacity="0.7"/>
<circle cx="324.4" cy="474.3" r="5.6" fill="#4b0086" fill-opacity="0.7"/>
<circle cx="298.9" cy="480.6" r="5.6" fill="#4b0086" fill-opacity="0.7"/>
<circle cx="338.3" cy="480.6" r="5.6" fill="#4b0086" fill-opacity="0.7"/>
<circle cx="346.3" cy="480.6" r="5.6" fill="#4b0086" fill-opacity="0.7"/>
<circle cx="362.4" cy="479.6" r="5.6" fill="#4b0086" fill-opacity="0.7"/>
<circle cx="362.4" cy="480.3" r="5.6" fill="#4b0086" fill-opacity="0.7"/>
<circle cx="373.0" cy="474.5" r="5.6" fill="#4b0086" fill-opacity="0.7"/>
<circle cx="363.8" cy="472.6" r="5.6" fill="#4b0086" fill-opacity="0.7"/>
<circle cx="405.7" cy="448.9" r="5.6" fill="#4b0086" fill-opacity="0.7"/>
<circle cx="402.4" cy="475.0" r="5.6" fill="#4b0086" fill-opacity="0.7"/>
<circle cx="176.8" cy="545.8" r="5.6" fill="#4b0086" fill-opacity="0.7"/>
<circle cx="268.0" cy="493.2" r="5.6" fill="#4b0086" fill-opacity="0.7"/>
<circle cx="263.6" cy="500.1" r="5.6" fill="#4b0086" fill-opacity="0.7"/>
<circle cx="231.5" cy="506.8" r="5.6" fill="#4b0086" fill-opacity="0.7"/>
<circle cx="272.4" cy="507.1" r="5.6" fill="#4b0086" fill-opacity="0.7"/>
<circle cx="288.0" cy="519.2" r="5.6" fill="#4b0086" fill-opacity="0.7"/>
<circle cx="267.3" cy="551.6" r="5.6" fill="#4b0086" fill-opacity="0.7"/>
<circle cx="211.1" cy="551.6" r="5.6" fill="#4b0086" fill-opacity="0.7"/>
<circle cx="282.3" cy="480.6" r="5.6" fill="#4b0086" fill-opacity="0.7"/>
<circle cx="306.9" cy="487.4" r="5.6" fill="#4b0086" fill-opacity="0.7"/>
<circle cx="306.9" cy="494.0" r="5.6" fill="#4b0086" fill-opacity="0.7"/>
<circle cx="308.4" cy="499.8" r="5.6" fill="#4b0086" fill-opacity="0.7"/>
<circle cx="301.1" cy="513.0" r="5.6" fill="#4b0086" fill-opacity="0.7"/>
<circle cx="336.1" cy="487.4" r="5.6" fill="#4b0086" fill-opacity="0.7"/>
<circle cx="336.8" cy="494.0" r="5.6" fill="#4b0086" fill-opacity="0.7"/>
<circle cx="336.5" cy="493.0" r="5.6" fill="#4b0086" fill-opacity="0.7"/>
<circle cx="336.8" cy="500.5" r="5.6" fill="#4b0086" fill-opacity="0.7"/>
<circle cx="337.6" cy="507.1" r="5.6" fill="#4b0086" fill-opacity="0.7"/>
<circle cx="351.5" cy="487.3" r="5.6" fill="#4b0086" fill-opacity="0.7"/>
<circle cx="351.5" cy="487.3" r="5.6" fill="#4b0086" fill-opacity="0.7"/>
<circle cx="356.5" cy="487.3" r="5.6" fill="#4b0086" fill-opacity="0.7"/>
<circle cx="349.2" cy="499.8" r="5.6" fill="#4b0086" fill-opacity="0.7"/>
<circle cx="349.3" cy="497.5" r="5.6" fill="#4b0086" fill-opacity="0.7"/>
<circle cx="363.8" cy="499.8" r="5.6" fill="#4b0086" fill-opacity="0.7"/>
<circle cx="364.6" cy="506.4" r="5.6" fill="#4b0086" fill-opacity="0.7"/>
<circle cx="353.6" cy="513.0" r="5.6" fill="#4b0086" fill-opacity="0.7"/>
<circle cx="331.7" cy="518.8" r="5.6" fill="#4b0086" fill-opacity="0.7"/>
<circle cx="330.3" cy="526.1" r="5.6" fill="#4b0086" fill-opacity="0.7"/>
<circle cx="306.9" cy="539.2" r="5.6" fill="#4b0086" fill-opacity="0.7"/>
<circle cx="317.8" cy="539.2" r="5.6" fill="#4b0086" fill-opacity="0.7"/>
<circle cx="308.4" cy="545.8" r="5.6" fill="#4b0086" fill-opacity="0.7"/>
<circle cx="320.8" cy="551.6" r="5.6" fill="#4b0086" fill-opacity="0.7"/>
<circle cx="348.5" cy="551.6" r="5.6" fill="#4b0086" fill-opacity="0.7"/>
<circle cx="365.3" cy="558.2" r="5.6" fill="#4b0086" fill-opacity="0.7"/>
<circle cx="377.0" cy="570.8" r="5.6" fill="#4b0086" fill-opacity="0.7"/>
<circle cx="398.4" cy="526.1" r="5.6" fill="#4b0086" fill-opacity="0.7"/>
<circle cx="289.2" cy="596.8" r="5.6" fill="#4b0086" fill-opacity="0.7"/>
<circle cx="332.4" cy="590.5" r="5.6" fill="#4b0086" fill-opacity="0.7"/>
<circle cx="347.8" cy="577.8" r="5.6" fill="#4b0086" fill-opacity="0.7"/>
<circle cx="367.0" cy="590.1" r="5.6" fill="#4b0086" fill-opacity="0.7"/>
<circle cx="332.4" cy="616.1" r="5.6" fill="#4b0086" fill-opacity="0.7"/>
<circle cx="323.7" cy="622.7" r="5.6" fill="#4b0086" fill-opacity="0.7"/>
<circle cx="369.7" cy="687.1" r="5.6" fill="#4b0086" fill-opacity="0.7"/>
<circle cx="185.8" cy="448.9" r="4.95" fill="none" stroke="#4b0086" stroke-opacity="0.7" stroke-width="1.6"/>
<circle cx="217.9" cy="410.1" r="4.95" fill="none" stroke="#4b0086" stroke-opacity="0.7" stroke-width="1.6"/>
<circle cx="268.0" cy="423.2" r="4.95" fill="none" stroke="#4b0086" stroke-opacity="0.7" stroke-width="1.6"/>
<circle cx="276.5" cy="416.4" r="4.95" fill="none" stroke="#4b0086" stroke-opacity="0.7" stroke-width="1.6"/>
<circle cx="290.6" cy="422.2" r="4.95" fill="none" stroke="#4b0086" stroke-opacity="0.7" stroke-width="1.6"/>
<circle cx="293.1" cy="416.4" r="4.95" fill="none" stroke="#4b0086" stroke-opacity="0.7" stroke-width="1.6"/>
<circle cx="292.2" cy="442.2" r="4.95" fill="none" stroke="#4b0086" stroke-opacity="0.7" stroke-width="1.6"/>
<circle cx="243.2" cy="468.2" r="4.95" fill="none" stroke="#4b0086" stroke-opacity="0.7" stroke-width="1.6"/>
<circle cx="258.5" cy="461.6" r="4.95" fill="none" stroke="#4b0086" stroke-opacity="0.7" stroke-width="1.6"/>
<circle cx="276.0" cy="468.2" r="4.95" fill="none" stroke="#4b0086" stroke-opacity="0.7" stroke-width="1.6"/>
<circle cx="287.2" cy="461.6" r="4.95" fill="none" stroke="#4b0086" stroke-opacity="0.7" stroke-width="1.6"/>
<circle cx="230.8" cy="487.0" r="4.95" fill="none" stroke="#4b0086" stroke-opacity="0.7" stroke-width="1.6"/>
<circle cx="329.5" cy="404.0" r="4.95" fill="none" stroke="#4b0086" stroke-opacity="0.7" stroke-width="1.6"/>
<circle cx="377.3" cy="403.7" r="4.95" fill="none" stroke="#4b0086" stroke-opacity="0.7" stroke-width="1.6"/>
<circle cx="334.6" cy="429.2" r="4.95" fill="none" stroke="#4b0086" stroke-opacity="0.7" stroke-width="1.6"/>
<circle cx="341.2" cy="429.5" r="4.95" fill="none" stroke="#4b0086" stroke-opacity="0.7" stroke-width="1.6"/>
<circle cx="355.4" cy="429.5" r="4.95" fill="none" stroke="#4b0086" stroke-opacity="0.7" stroke-width="1.6"/>
<circle cx="379.9" cy="435.8" r="4.95" fill="none" stroke="#4b0086" stroke-opacity="0.7" stroke-width="1.6"/>
<circle cx="339.3" cy="448.9" r="4.95" fill="none" stroke="#4b0086" stroke-opacity="0.7" stroke-width="1.6"/>
<circle cx="367.0" cy="467.9" r="4.95" fill="none" stroke="#4b0086" stroke-opacity="0.7" stroke-width="1.6"/>
<circle cx="314.9" cy="455.1" r="4.95" fill="none" stroke="#4b0086" stroke-opacity="0.7" stroke-width="1.6"/>
<circle cx="317.8" cy="461.6" r="4.95" fill="none" stroke="#4b0086" stroke-opacity="0.7" stroke-width="1.6"/>
<circle cx="304.0" cy="461.6" r="4.95" fill="none" stroke="#4b0086" stroke-opacity="0.7" stroke-width="1.6"/>
<circle cx="379.2" cy="480.3" r="4.95" fill="none" stroke="#4b0086" stroke-opacity="0.7" stroke-width="1.6"/>
<circle cx="418.1" cy="429.5" r="4.95" fill="none" stroke="#4b0086" stroke-opacity="0.7" stroke-width="1.6"/>
<circle cx="392.8" cy="448.9" r="4.95" fill="none" stroke="#4b0086" stroke-opacity="0.7" stroke-width="1.6"/>
<circle cx="129.7" cy="494.0" r="4.95" fill="none" stroke="#4b0086" stroke-opacity="0.7" stroke-width="1.6"/>
<circle cx="188.4" cy="494.0" r="4.95" fill="none" stroke="#4b0086" stroke-opacity="0.7" stroke-width="1.6"/>
<circle cx="246.4" cy="500.1" r="4.95" fill="none" stroke="#4b0086" stroke-opacity="0.7" stroke-width="1.6"/>
<circle cx="257.8" cy="500.1" r="4.95" fill="none" stroke="#4b0086" stroke-opacity="0.7" stroke-width="1.6"/>
<circle cx="270.9" cy="500.1" r="4.95" fill="none" stroke="#4b0086" stroke-opacity="0.7" stroke-width="1.6"/>
<circle cx="228.9" cy="519.5" r="4.95" fill="none" stroke="#4b0086" stroke-opacity="0.7" stroke-width="1.6"/>
<circle cx="233.2" cy="545.1" r="4.95" fill="none" stroke="#4b0086" stroke-opacity="0.7" stroke-width="1.6"/>
<circle cx="251.6" cy="558.2" r="4.95" fill="none" stroke="#4b0086" stroke-opacity="0.7" stroke-width="1.6"/>
<circle cx="298.1" cy="480.8" r="4.95" fill="none" stroke="#4b0086" stroke-opacity="0.7" stroke-width="1.6"/>
<circle cx="314.9" cy="499.8" r="4.95" fill="none" stroke="#4b0086" stroke-opacity="0.7" stroke-width="1.6"/>
<circle cx="298.9" cy="506.4" r="4.95" fill="none" stroke="#4b0086" stroke-opacity="0.7" stroke-width="1.6"/>
<circle cx="309.8" cy="506.4" r="4.95" fill="none" stroke="#4b0086" stroke-opacity="0.7" stroke-width="1.6"/>
<circle cx="325.1" cy="506.4" r="4.95" fill="none" stroke="#4b0086" stroke-opacity="0.7" stroke-width="1.6"/>
<circle cx="315.7" cy="513.2" r="4.95" fill="none" stroke="#4b0086" stroke-opacity="0.7" stroke-width="1.6"/>
<circle cx="371.1" cy="480.8" r="4.95" fill="none" stroke="#4b0086" stroke-opacity="0.7" stroke-width="1.6"/>
<circle cx="334.6" cy="539.2" r="4.95" fill="none" stroke="#4b0086" stroke-opacity="0.7" stroke-width="1.6"/>
<circle cx="328.8" cy="564.3" r="4.95" fill="none" stroke="#4b0086" stroke-opacity="0.7" stroke-width="1.6"/>
<circle cx="371.5" cy="570.8" r="4.95" fill="none" stroke="#4b0086" stroke-opacity="0.7" stroke-width="1.6"/>
<circle cx="390.3" cy="551.6" r="4.95" fill="none" stroke="#4b0086" stroke-opacity="0.7" stroke-width="1.6"/>
<circle cx="262.2" cy="577.8" r="4.95" fill="none" stroke="#4b0086" stroke-opacity="0.7" stroke-width="1.6"/>
<circle cx="216.9" cy="609.5" r="4.95" fill="none" stroke="#4b0086" stroke-opacity="0.7" stroke-width="1.6"/>
<circle cx="391.4" cy="610.0" r="4.95" fill="none" stroke="#4b0086" stroke-opacity="0.7" stroke-width="1.6"/>
</g>
<g stroke="#707070" stroke-width="1.52" stroke-dasharray="1.52 2.51" fill="none" clip-path="url(#cpb)">
<line x1="96.8" y1="738.83" x2="485.8" y2="738.83"/>
<line x1="96.8" y1="680.96" x2="485.8" y2="680.96"/>
<line x1="96.8" y1="623.09" x2="485.8" y2="623.09"/>
<line x1="96.8" y1="565.22" x2="485.8" y2="565.22"/>
<line x1="96.8" y1="507.35" x2="485.8" y2="507.35"/>
<line x1="96.8" y1="449.48" x2="485.8" y2="449.48"/>
<line x1="96.8" y1="391.61" x2="485.8" y2="391.61"/>
<line x1="194.05" y1="750.40" x2="194.05" y2="391.61"/>
<line x1="291.30" y1="750.40" x2="291.30" y2="391.61"/>
<line x1="388.55" y1="750.40" x2="388.55" y2="391.61"/>
<line x1="485.80" y1="750.40" x2="485.80" y2="391.61"/>
</g>
<g clip-path="url(#cpb)" fill="none" stroke="#000">
<path d="M96.80,575.53 L101.29,573.67 L105.78,571.79 L110.27,569.88 L114.77,567.94 L119.26,565.99 L123.75,564.03 L128.24,562.07 L132.73,560.10 L137.22,558.14 L141.71,556.18 L146.20,554.24 L150.70,552.31 L155.19,550.41 L159.68,548.53 L164.17,546.68 L168.66,544.86 L173.15,543.08 L177.64,541.34 L182.14,539.64 L186.63,537.98 L191.12,536.37 L195.61,534.81 L200.10,533.30 L204.59,531.85 L209.08,530.46 L213.58,529.12 L218.07,527.84 L222.56,526.63 L227.05,525.48 L231.54,524.40 L236.03,523.38 L240.52,522.43 L245.01,521.54 L249.51,520.73 L254.00,519.98 L258.49,519.31 L262.98,518.70 L267.47,518.17 L271.96,517.70 L276.45,517.30 L280.95,516.97 L285.44,516.71 L289.93,516.52 L294.42,516.39 L298.91,516.33 L303.40,516.33 L307.89,516.40 L312.38,516.52 L316.88,516.71 L321.37,516.95 L325.86,517.25 L330.35,517.60 L334.84,518.00 L339.33,518.45 L343.82,518.95 L348.32,519.48 L352.81,520.06 L357.30,520.67 L361.79,521.32 L366.28,521.99 L370.77,522.69 L375.26,523.41 L379.76,524.15 L384.25,524.90 L388.74,525.67 L393.23,526.43 L397.72,527.20 L402.21,527.96 L406.70,528.71 L411.19,529.45 L415.69,530.17 L420.18,530.86 L424.67,531.52 L429.16,532.14 L433.65,532.72 L438.14,533.25 L442.63,533.73 L447.13,534.14 L451.62,534.49" stroke-width="1.9" stroke-dasharray="7.0 3.0"/>
<path d="M96.80,631.57 L101.29,626.64 L105.78,621.90 L110.27,617.32 L114.77,612.92 L119.26,608.67 L123.75,604.59 L128.24,600.66 L132.73,596.88 L137.22,593.24 L141.71,589.74 L146.20,586.38 L150.70,583.15 L155.19,580.05 L159.68,577.07 L164.17,574.22 L168.66,571.49 L173.15,568.87 L177.64,566.36 L182.14,563.96 L186.63,561.67 L191.12,559.48 L195.61,557.39 L200.10,555.40 L204.59,553.51 L209.08,551.72 L213.58,550.02 L218.07,548.41 L222.56,546.89 L227.05,545.46 L231.54,544.12 L236.03,542.86 L240.52,541.69 L245.01,540.60 L249.51,539.60 L254.00,538.69 L258.49,537.85 L262.98,537.10 L267.47,536.43 L271.96,535.85 L276.45,535.35 L280.95,534.94 L285.44,534.60 L289.93,534.36 L294.42,534.20 L298.91,534.13 L303.40,534.15 L307.89,534.26 L312.38,534.45 L316.88,534.75 L321.37,535.13 L325.86,535.62 L330.35,536.20 L334.84,536.88 L339.33,537.67 L343.82,538.57 L348.32,539.57 L352.81,540.68 L357.30,541.91 L361.79,543.26 L366.28,544.72 L370.77,546.31 L375.26,548.03 L379.76,549.89 L384.25,551.87 L388.74,554.00 L393.23,556.27 L397.72,558.69 L402.21,561.26 L406.70,563.99 L411.19,566.88 L415.69,569.93 L420.18,573.16 L424.67,576.57 L429.16,580.16 L433.65,583.94 L438.14,587.91 L442.63,592.08 L447.13,596.46 L451.62,601.04" stroke-width="1.9" stroke-dasharray="7.0 3.0"/>
<path d="M96.80,603.64 L101.29,600.25 L105.78,596.94 L110.27,593.70 L114.77,590.54 L119.26,587.45 L123.75,584.44 L128.24,581.50 L132.73,578.64 L137.22,575.86 L141.71,573.15 L146.20,570.51 L150.70,567.95 L155.19,565.47 L159.68,563.06 L164.17,560.72 L168.66,558.46 L173.15,556.28 L177.64,554.17 L182.14,552.14 L186.63,550.18 L191.12,548.30 L195.61,546.49 L200.10,544.76 L204.59,543.11 L209.08,541.52 L213.58,540.02 L218.07,538.59 L222.56,537.23 L227.05,535.95 L231.54,534.75 L236.03,533.62 L240.52,532.57 L245.01,531.59 L249.51,530.68 L254.00,529.86 L258.49,529.10 L262.98,528.43 L267.47,527.82 L271.96,527.30 L276.45,526.84 L280.95,526.47 L285.44,526.17 L289.93,525.94 L294.42,525.79 L298.91,525.72 L303.40,525.72 L307.89,525.79 L312.38,525.94 L316.88,526.17 L321.37,526.47 L325.86,526.85 L330.35,527.30 L334.84,527.82 L339.33,528.43 L343.82,529.10 L348.32,529.86 L352.81,530.69 L357.30,531.59 L361.79,532.57 L366.28,533.62 L370.77,534.75 L375.26,535.96 L379.76,537.24 L384.25,538.59 L388.74,540.02 L393.23,541.53 L397.72,543.11 L402.21,544.77 L406.70,546.50 L411.19,548.31 L415.69,550.19 L420.18,552.15 L424.67,554.18 L429.16,556.29 L433.65,558.47 L438.14,560.73 L442.63,563.06 L447.13,565.47 L451.62,567.96" stroke-width="3.2"/>
</g>
<line x1="96.8" y1="390.86" x2="96.8" y2="751.15" stroke="#000" stroke-width="2.1"/>
<line x1="96.05" y1="750.40" x2="486.55" y2="750.40" stroke="#000" stroke-width="2.1"/>
<line x1="86.3" y1="738.83" x2="96.8" y2="738.83" stroke="#000" stroke-width="2.1"/>
<text transform="translate(74.80,746.63) scale(1,1.12)" text-anchor="end" class="t">0.4</text>
<line x1="86.3" y1="680.96" x2="96.8" y2="680.96" stroke="#000" stroke-width="2.1"/>
<text transform="translate(74.80,688.76) scale(1,1.12)" text-anchor="end" class="t">0.5</text>
<line x1="86.3" y1="623.09" x2="96.8" y2="623.09" stroke="#000" stroke-width="2.1"/>
<text transform="translate(74.80,630.89) scale(1,1.12)" text-anchor="end" class="t">0.6</text>
<line x1="86.3" y1="565.22" x2="96.8" y2="565.22" stroke="#000" stroke-width="2.1"/>
<text transform="translate(74.80,573.02) scale(1,1.12)" text-anchor="end" class="t">0.7</text>
<line x1="86.3" y1="507.35" x2="96.8" y2="507.35" stroke="#000" stroke-width="2.1"/>
<text transform="translate(74.80,515.15) scale(1,1.12)" text-anchor="end" class="t">0.8</text>
<line x1="86.3" y1="449.48" x2="96.8" y2="449.48" stroke="#000" stroke-width="2.1"/>
<text transform="translate(74.80,457.28) scale(1,1.12)" text-anchor="end" class="t">0.9</text>
<line x1="86.3" y1="391.61" x2="96.8" y2="391.61" stroke="#000" stroke-width="2.1"/>
<text transform="translate(74.80,399.41) scale(1,1.12)" text-anchor="end" class="t">.0</text>
<path transform="translate(45.61,399.41) scale(0.02100,-0.02352)" d="M376 0L282 0L282 530C222 490 150 470 76 462L76 550C176 565 258 620 300 709L376 709Z" fill="#000" stroke="#000" stroke-width="19.0"/>
<line x1="96.80" y1="750.40" x2="96.80" y2="760.90" stroke="#000" stroke-width="2.1"/>
<text transform="translate(96.80,787.30) scale(1,1.12)" text-anchor="middle" class="t">0.0</text>
<line x1="194.05" y1="750.40" x2="194.05" y2="760.90" stroke="#000" stroke-width="2.1"/>
<text transform="translate(194.05,787.30) scale(1,1.12)" text-anchor="middle" class="t">0.2</text>
<line x1="291.30" y1="750.40" x2="291.30" y2="760.90" stroke="#000" stroke-width="2.1"/>
<text transform="translate(291.30,787.30) scale(1,1.12)" text-anchor="middle" class="t">0.4</text>
<line x1="388.55" y1="750.40" x2="388.55" y2="760.90" stroke="#000" stroke-width="2.1"/>
<text transform="translate(388.55,787.30) scale(1,1.12)" text-anchor="middle" class="t">0.6</text>
<line x1="485.80" y1="750.40" x2="485.80" y2="760.90" stroke="#000" stroke-width="2.1"/>
<text transform="translate(485.80,787.30) scale(1,1.12)" text-anchor="middle" class="t">0.8</text>
<text transform="translate(291.05,819.30) scale(1,1.05)" text-anchor="middle" class="lab">Self-challenge (SC)</text>
<text transform="translate(28.40,571.00) rotate(-90) scale(1,1.05)" text-anchor="middle" class="lab">Weighted performance (dwfPC)</text>
<rect x="535.9" y="401.9" width="147.6" height="219.3" rx="4.5" ry="4.5" fill="#fff" stroke="#d4d4d4" stroke-width="3.0"/>
<line x1="544.2" y1="418.2" x2="561.2" y2="418.2" stroke="#a9a9a9" stroke-width="1.7" stroke-dasharray="1.7 3.1"/>
<circle cx="578.5" cy="418.2" r="9.4" fill="none" stroke="#a9a9a9" stroke-width="2.7"/>
<line x1="543.1" y1="448.65" x2="562.0" y2="448.65" stroke="#a9a9a9" stroke-width="1.7"/>
<circle cx="578.5" cy="448.65" r="10.7" fill="#a9a9a9"/>
<rect x="544.0" y="471.80" width="43.3" height="14.6" fill="#7dd8ec"/>
<rect x="544.0" y="502.25" width="43.3" height="14.6" fill="#6670be"/>
<rect x="544.0" y="532.70" width="43.3" height="14.6" fill="#4b0086"/>
<line x1="543.1" y1="570.45" x2="588.0" y2="570.45" stroke="#000" stroke-width="2.2"/>
<line x1="543.1" y1="600.90" x2="588.0" y2="600.90" stroke="#000" stroke-width="1.9" stroke-dasharray="7.0 3.0"/>
<text transform="translate(604.40,425.60) scale(1,1.06)" class="t">IG</text>
<text transform="translate(604.40,456.05) scale(1,1.06)" class="t">EG</text>
<text transform="translate(604.40,486.50) scale(1,1.06)" class="t">NAM</text>
<path transform="translate(651.07,486.50) scale(0.02100,-0.02226)" d="M376 0L282 0L282 530C222 490 150 470 76 462L76 550C176 565 258 620 300 709L376 709Z" fill="#000" stroke="#000" stroke-width="19.0"/>
<text transform="translate(604.40,516.95) scale(1,1.06)" class="t">NAM2</text>
<text transform="translate(604.40,547.40) scale(1,1.06)" class="t">NAM3</text>
<text transform="translate(604.40,577.85) scale(1,1.06)" class="t">Model</text>
<text transform="translate(604.40,608.30) scale(1,1.06)" class="t">95% CI</text>
</svg>
</body></html>
